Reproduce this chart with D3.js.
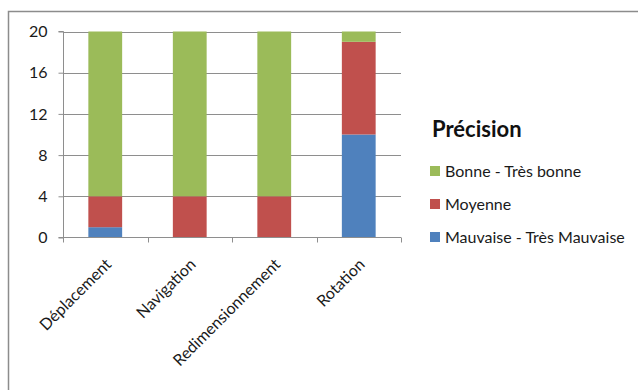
<!DOCTYPE html>
<html>
<head>
<meta charset="utf-8">
<script src="https://cdn.jsdelivr.net/npm/d3@7"></script>
<style>
  html, body { margin: 0; padding: 0; background: #fff; }
  svg { display: block; font-family: Lato, "Open Sans", sans-serif; }
</style>
</head>
<body>
<svg id="chart" width="638" height="390"></svg>
<script>
// Categories and stacked series (counts per rating level)
const categories = ["Déplacement", "Navigation", "Redimensionnement", "Rotation"];
const seriesNames = ["Mauvaise - Très Mauvaise", "Moyenne", "Bonne - Très bonne"];
const mauvaise = [1, 0, 0, 10];
const moyenne = [3, 4, 4, 9];
const bonne = [16, 16, 16, 1];
const yTicks = [0, 4, 8, 12, 16, 20];
const legendTitle = "Précision";
const colors = ["#4F81BD", "#C0504D", "#9BBB59"];

const rows = categories.map((c, i) => ({
  cat: c,
  [seriesNames[0]]: mauvaise[i],
  [seriesNames[1]]: moyenne[i],
  [seriesNames[2]]: bonne[i]
}));

const svg = d3.select("#chart");
const margin = { left: 63, top: 31.5, right: 401, bottom: 237.5 };

// Outer chart frame (top and left edges visible)
svg.append("path")
  .attr("d", "M8.5,400 V11.5 H640")
  .attr("fill", "none")
  .attr("stroke", "#8c8c8c")
  .attr("stroke-width", 1.5);

const x = d3.scaleBand().domain(categories).range([margin.left, margin.right]).paddingInner(0.6).paddingOuter(0.3);
const y = d3.scaleLinear().domain([0, 20]).range([margin.bottom, margin.top]);

// Horizontal gridlines
svg.append("g").selectAll("line").data(yTicks.filter(t => t > 0)).join("line")
  .attr("x1", margin.left).attr("x2", margin.right)
  .attr("y1", d => Math.round(y(d)) + 0.5).attr("y2", d => Math.round(y(d)) + 0.5)
  .attr("stroke", "#8e8e8e").attr("stroke-width", 1);

// Stacked bars
const stack = d3.stack().keys(seriesNames)(rows);
svg.append("g").selectAll("g").data(stack).join("g")
  .attr("fill", (d, i) => colors[i])
  .selectAll("rect").data(d => d).join("rect")
  .attr("x", d => x(d.data.cat))
  .attr("width", x.bandwidth())
  .attr("y", d => y(d[1]))
  .attr("height", d => y(d[0]) - y(d[1]));

// Y axis
const yAxis = svg.append("g")
  .attr("transform", `translate(${margin.left + 0.5},0)`)
  .call(d3.axisLeft(y).tickValues(yTicks).tickSize(5).tickPadding(11).tickFormat(d3.format("d")));
yAxis.select(".domain").attr("stroke", "#8e8e8e").attr("d", `M-5,${y(20)}H0V${y(0)}H-5`);
yAxis.selectAll(".tick line").attr("stroke", "#8e8e8e");
yAxis.selectAll(".tick text").attr("fill", "#1a1a1a").style("font-size", "16px").style("font-family", "Lato, sans-serif");

// X axis baseline with tick marks between categories
const xAxisG = svg.append("g");
xAxisG.append("line")
  .attr("x1", margin.left).attr("x2", margin.right)
  .attr("y1", margin.bottom).attr("y2", margin.bottom)
  .attr("stroke", "#8e8e8e");
const boundaries = d3.range(categories.length + 1).map(i => margin.left + i * (margin.right - margin.left) / categories.length);
xAxisG.selectAll("line.tk").data(boundaries).join("line").attr("class", "tk")
  .attr("x1", d => Math.round(d) + 0.5).attr("x2", d => Math.round(d) + 0.5)
  .attr("y1", margin.bottom).attr("y2", margin.bottom + 5)
  .attr("stroke", "#8e8e8e");

// Rotated category labels
xAxisG.selectAll("text").data(categories).join("text")
  .attr("transform", d => `translate(${x(d) + x.bandwidth() / 2 + 3},${margin.bottom + 24}) rotate(-45)`)
  .attr("text-anchor", "end")
  .attr("dy", "0.35em")
  .attr("fill", "#1a1a1a")
  .style("font-size", "16px")
  .text(d => d);

// Legend
const legend = svg.append("g");
legend.append("text")
  .attr("x", 432).attr("y", 137)
  .attr("fill", "#111")
  .style("font-size", "22px").style("font-weight", "bold")
  .text(legendTitle);
const legendOrder = [2, 1, 0];
const legendY = [171, 204, 237];
legendOrder.forEach((si, k) => {
  legend.append("rect")
    .attr("x", 430).attr("y", legendY[k] - 5).attr("width", 10).attr("height", 10)
    .attr("fill", colors[si]);
  legend.append("text")
    .attr("x", 445).attr("y", legendY[k] + 5.5)
    .attr("fill", "#1a1a1a")
    .style("font-size", "16px")
    .text(seriesNames[si]);
});
</script>
</body>
</html>
